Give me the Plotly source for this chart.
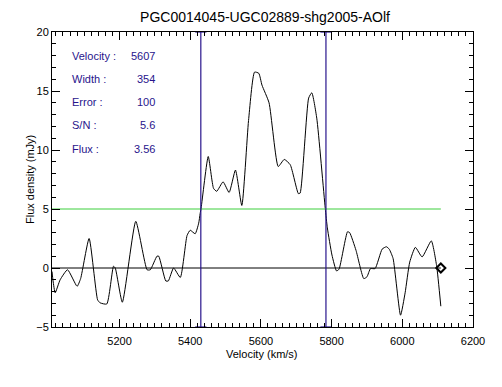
import plotly.graph_objects as go

# spectrum
velocity = [5009, 5012, 5018, 5032, 5053, 5080, 5090, 5114, 5138, 5145,
            5164, 5183, 5188, 5208, 5246, 5278, 5287, 5306, 5311, 5331,
            5338, 5353, 5372, 5391, 5400, 5414, 5424, 5428, 5431, 5451,
            5466, 5475, 5493, 5510, 5528, 5546, 5565, 5582, 5594, 5603,
            5623, 5649, 5666, 5683, 5706, 5711, 5735, 5744, 5758, 5782,
            5788, 5801, 5814, 5821, 5845, 5851, 5869, 5891, 5900, 5910,
            5923, 5943, 5955, 5963, 5974, 5995, 6008, 6021, 6037, 6056,
            6082, 6097, 6109]
flux = [-0.3, -1.1, -2.1, -1.0, -0.15, -1.55, -0.9, 2.5, -2.7, -2.95,
        -3.05, 0.15, 0.0, -2.9, 3.95, -0.15, -0.15, 1.0, 1.0, -1.1,
        -1.1, 0.0, -0.8, 2.75, 3.2, 2.9, 3.8, 4.6, 5.1, 9.45,
        6.75, 6.5, 7.3, 6.4, 8.3, 5.3, 12.5, 16.6, 16.5, 15.5,
        14.0, 8.6, 9.2, 8.75, 6.3, 6.35, 14.4, 14.85, 12.7, 5.06,
        3.4, 1.1, -0.25, -0.1, 3.07, 3.0, 1.5, -0.9, -0.75, -0.05,
        -0.05, 1.6, 1.8, 1.6, 0.8, -4.0, -2.1, 0.5, 1.75, 0.94,
        2.3, 0.2, -3.24]

vel_center = 5607
vel_width = 354
level = 5.0

info_labels = ["Velocity :", "Width :", "Error :", "S/N :", "Flux :"]
info_values = ["5607", "354", "100", "5.6", "3.56"]

x_ticks = [5200, 5400, 5600, 5800, 6000, 6200]
y_ticks = [-5, 0, 5, 10, 15, 20]

blue = "#28148c"
font = "Liberation Sans"

W, H = 502, 387
L, R, T, B = 52, 29, 32, 60
pw, ph = W - L - R, H - T - B


def px_x(x):
    return (x - L) / pw


def px_y(y):
    return 1 - (y - T) / ph


fig = go.Figure()

# spectrum
fig.add_trace(go.Scatter(x=velocity, y=flux, mode="lines",
                         line=dict(color="black", width=1, shape="spline", smoothing=0.5)))

# zero line with diamond at end
fig.add_trace(go.Scatter(x=[velocity[0], velocity[-1]], y=[0, 0], mode="lines",
                         line=dict(color="black", width=1)))
fig.add_trace(go.Scatter(x=[velocity[-1]], y=[0], mode="markers",
                         marker=dict(symbol="diamond-open", size=7, color="black",
                                     line=dict(width=2, color="black"))))

# 50% level
fig.add_trace(go.Scatter(x=[velocity[0], velocity[-1]], y=[level, level], mode="lines",
                         line=dict(color="#3ccf3c", width=1)))

# width edges
for v in [vel_center - vel_width / 2, vel_center + vel_width / 2]:
    fig.add_trace(go.Scatter(x=[v, v], y=[-5, 20], mode="lines+markers",
                             line=dict(color=blue, width=1.2),
                             marker=dict(symbol="line-ew-open", size=8,
                                         line=dict(color=blue, width=1.2))))

for i, (lab, val) in enumerate(zip(info_labels, info_values)):
    yy = 55.7 + i * 23.2
    fig.add_annotation(x=px_x(70), y=px_y(yy), xref="paper", yref="paper", text=lab,
                       showarrow=False, xanchor="left", yanchor="middle",
                       font=dict(family=font, size=11, color=blue))
    fig.add_annotation(x=px_x(157), y=px_y(yy), xref="paper", yref="paper", text=val,
                       showarrow=False, xanchor="right", yanchor="middle",
                       font=dict(family=font, size=11, color=blue))

# axis titles placed by hand
fig.add_annotation(x=px_x(262), y=px_y(354), xref="paper", yref="paper",
                   text="Velocity (km/s)", showarrow=False, yanchor="middle",
                   font=dict(family=font, size=11, color="black"))
fig.add_annotation(x=px_x(22), y=px_y(180), xref="paper", yref="paper",
                   text="Flux density (mJy)", showarrow=False, textangle=-90,
                   font=dict(family=font, size=11, color="black"))

fig.update_layout(
    width=W, height=H,
    margin=dict(l=L, r=R, t=T, b=B, autoexpand=False),
    plot_bgcolor="white", paper_bgcolor="white",
    showlegend=False,
    font=dict(family=font, size=11, color="black"),
    title=dict(text="PGC0014045-UGC02889-shg2005-AOlf", x=265 / W, xanchor="center",
               y=1 - 17 / H, yanchor="middle",
               font=dict(family=font, size=14, color="black")),
    xaxis=dict(range=[5009, 6200], tickvals=x_ticks, showgrid=False, zeroline=False,
               showline=True, linecolor="black", linewidth=1, mirror="ticks",
               ticks="inside", ticklen=8, tickcolor="black", automargin=False,
               ticklabelstandoff=4,
               minor=dict(dtick=20, ticks="inside", ticklen=4, tickcolor="black")),
    yaxis=dict(range=[-5, 20], tickvals=y_ticks, showgrid=False, zeroline=False,
               showline=True, linecolor="black", linewidth=1, mirror="ticks",
               ticks="inside", ticklen=8, tickcolor="black", automargin=False,
               minor=dict(dtick=1, ticks="inside", ticklen=4, tickcolor="black")),
)

# page has a default body margin; drop it so the figure sits at the corner
fig.write_html("out.html", config={"displayModeBar": False},
               post_script="document.body.style.margin='0';")
